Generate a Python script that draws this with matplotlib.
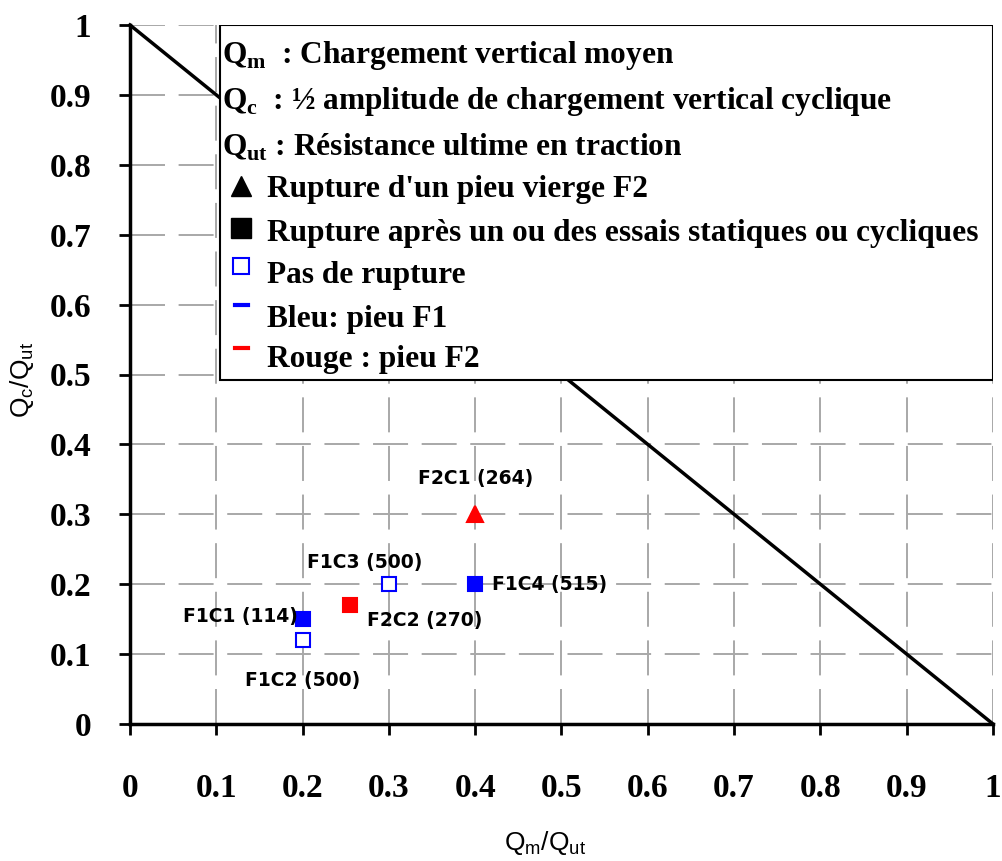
import matplotlib
matplotlib.use("Agg")
import matplotlib.pyplot as plt
from matplotlib.patches import Rectangle
from matplotlib.lines import Line2D

plt.rcParams['mathtext.fontset'] = 'custom'
plt.rcParams['mathtext.rm'] = 'Liberation Serif:bold'
plt.rcParams['mathtext.bf'] = 'Liberation Serif:bold'
plt.rcParams['mathtext.sf'] = 'Liberation Sans'

# Data
labels = ['F1C1 (114)', 'F1C2 (500)', 'F1C3 (500)', 'F1C4 (515)', 'F2C1 (264)', 'F2C2 (270)']
qm = [0.2, 0.2, 0.3, 0.4, 0.4, 0.255]
qc = [0.15, 0.12, 0.2, 0.2, 0.3, 0.17]
markers = ['s', 's', 's', 's', '^', 's']
colors = ['#0000ff', '#0000ff', '#0000ff', '#0000ff', '#ff0000', '#ff0000']
filled = [True, False, False, True, True, True]
limit_x = [0, 1]
limit_y = [1, 0]
ticks = [0, 0.1, 0.2, 0.3, 0.4, 0.5, 0.6, 0.7, 0.8, 0.9, 1]
tick_labels = ['0', '0.1', '0.2', '0.3', '0.4', '0.5', '0.6', '0.7', '0.8', '0.9', '1']

legend_texts = [
    r'Q$_\mathbf{m}$  : Chargement vertical moyen',
    r'Q$_\mathbf{c}$  : ½ amplitude de chargement vertical cyclique',
    r'Q$_\mathbf{ut}$ : Résistance ultime en traction',
    "Rupture d'un pieu vierge F2",
    'Rupture après un ou des essais statiques ou cycliques',
    'Pas de rupture',
    'Bleu: pieu F1',
    'Rouge : pieu F2',
]

# label offsets (pixels) and alignment
label_offsets = [(-5, 3), (0, -40), (-24, 22), (17, 0), (0, 36), (17, -15)]
label_ha = ['right', 'center', 'center', 'left', 'center', 'left']

fig = plt.figure(figsize=(10.03, 8.61), dpi=100)
ax = fig.add_axes([130/1003, 1-724/861, 863/1003, 699/861])
ax.set_xlim(0, 1)
ax.set_ylim(0, 1)

ax.set_xticks(ticks)
ax.set_yticks(ticks)
ax.set_xticklabels(tick_labels, fontfamily='Liberation Serif', fontweight='bold', fontsize=24)
ax.set_yticklabels(tick_labels, fontfamily='Liberation Serif', fontweight='bold', fontsize=24)
ax.tick_params(axis='x', direction='out', length=8, width=2, pad=27)
ax.tick_params(axis='y', direction='out', length=8, width=2, pad=20)

ax.grid(True, color='#a8a8a8', linestyle=(0, (18, 7)), linewidth=1.4, zorder=0)
ax.set_axisbelow(True)
for s in ['top', 'right']:
    ax.spines[s].set_visible(False)
for s in ['left', 'bottom']:
    ax.spines[s].set_linewidth(2.5)
    ax.spines[s].set_zorder(6)

ax.plot(limit_x, limit_y, color='black', linewidth=2.5, zorder=2, clip_on=False)

for x, y, m, c, f, lab, off, ha in zip(qm, qc, markers, colors, filled, labels, label_offsets, label_ha):
    ms = 11 if m == '^' else 10
    ax.plot([x], [y], marker=m, linestyle='none', markersize=ms,
            markerfacecolor=c if f else 'white', markeredgecolor=c,
            markeredgewidth=1.5, zorder=5)
    ax.annotate(lab, (x, y), xytext=off, textcoords='offset pixels',
                ha=ha, va='center', fontfamily='DejaVu Sans', fontweight='bold',
                fontsize=13.5, zorder=6)

ax.set_xlabel(r'$\mathsf{Q_m/Q_{ut}}$', fontsize=19, va='center', ha='center')
ax.xaxis.set_label_coords((545-130)/863, (724-843)/699)
ax.set_ylabel(r'$\mathsf{Q_c/Q_{ut}}$', fontsize=19, va='center', ha='center')
ax.yaxis.set_label_coords((22-130)/863, (724-380)/699)

# Legend box
bx0 = (220-130)/863
by0 = (724-380)/699
ax.add_patch(Rectangle((bx0, by0), 1-bx0, 1-by0, transform=ax.transAxes,
                       facecolor='white', edgecolor='black', linewidth=1.5, zorder=3))

ys_px = [55, 101, 147, 190, 234, 276, 319, 360]
text_x_px = [222, 222, 222, 267, 267, 267, 267, 267]
for t, yp, xp in zip(legend_texts, ys_px, text_x_px):
    fx = xp/1003
    fy = 1-yp/861
    fig.text(fx, fy, t, ha='left', va='center', fontfamily='Liberation Serif',
             fontweight='bold', fontsize=22.6, zorder=7)

def sym(xp, yp, **kw):
    fig.add_artist(Line2D([xp/1003], [1-yp/861], transform=fig.transFigure, zorder=8, **kw))

sym(241, 186, marker='^', markersize=15, color='black', linestyle='none')
sym(241, 228, marker='s', markersize=14, color='black', linestyle='none')
sym(241, 266, marker='s', markersize=12, markerfacecolor='white', markeredgecolor='#0000ff',
    markeredgewidth=1.5, linestyle='none')
fig.add_artist(Line2D([235/1003, 248/1003], [1-305/861]*2, transform=fig.transFigure,
                      color='#0000ff', linewidth=3, zorder=8))
fig.add_artist(Line2D([235/1003, 248/1003], [1-348/861]*2, transform=fig.transFigure,
                      color='#ff0000', linewidth=3, zorder=8))

fig.savefig('out.png', dpi=100)
